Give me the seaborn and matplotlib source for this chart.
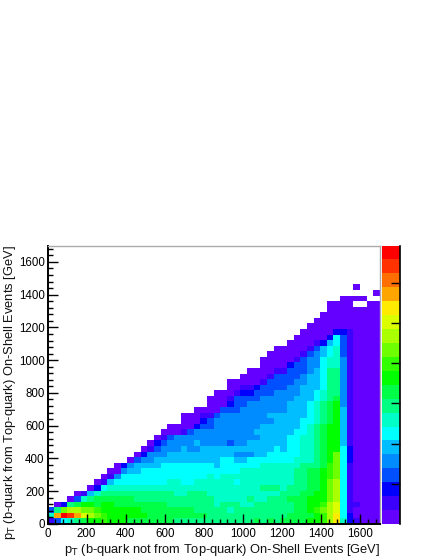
import matplotlib
matplotlib.use("Agg")
import matplotlib.pyplot as plt
import numpy as np
import pandas as pd
import seaborn as sns
from matplotlib.colors import ListedColormap
from matplotlib.ticker import FixedLocator

bin_width = 34  # GeV
x_tick_values = [0, 200, 400, 600, 800, 1000, 1200, 1400, 1600]
y_tick_values = [0, 200, 400, 600, 800, 1000, 1200, 1400, 1600]
x_label = r"p$_{\mathrm{T}}$ (b-quark not from Top-quark) On-Shell Events [GeV]"
y_label = r"p$_{\mathrm{T}}$ (b-quark from Top-quark) On-Shell Events [GeV]"

# palette steps, bottom of the colour bar to the top
palette = [
    "#6400ff", "#3c00ff", "#0000ff", "#0050ff", "#008cff",
    "#00beff", "#00ffff", "#00ffc8", "#00ff82", "#00ff46",
    "#00ff00", "#32ff00", "#6eff00", "#aaff00", "#dcff00",
    "#ffeb00", "#ffa500", "#ff6e00", "#ff3200", "#ff0000",
]
bar_ticks = [2.885, 5.77, 8.655, 11.54, 14.425, 17.31]

# colour step per bin, 0-9 then a-j, "." is empty. first line is the lowest row
level_rows = [
    "1 3 6 7 8  9 a a b a  a a 9 9 9  9 9 9 9 8  8 8 8 8 8  8 8 8 8 8  8 9 8 9 8  9 9 9 9 a  a b d f 7  2 1 0 0 0",
    "7 g j i g  e d c b a  a a a a a  9 9 9 9 9  9 9 9 9 8  8 8 8 8 8  8 8 8 8 8  8 9 9 9 9  a b d f 6  2 0 0 0 0",
    "3 8 c d d  c c b a a  a a a a 9  9 9 9 9 9  9 9 8 8 8  8 8 7 8 8  8 8 8 8 8  8 8 9 9 a  b c d e 6  1 0 0 0 0",
    ". 0 2 8 9  a a 9 a a  9 9 9 9 9  9 9 9 8 8  8 8 8 8 8  7 8 8 8 7  7 8 8 8 8  8 8 9 9 a  a b d e 6  1 1 0 0 0",
    ". . . 0 3  7 8 9 9 9  9 9 9 8 8  8 8 8 8 8  8 8 8 8 8  7 7 7 7 7  8 7 7 8 8  8 9 9 9 a  a a c d 6  1 0 0 0 0",
    ". . . . 0  1 5 7 8 8  8 8 8 8 8  8 8 8 8 7  7 8 8 8 7  7 7 7 7 7  7 7 7 7 7  8 8 8 9 9  a a c d 6  1 0 0 0 0",
    ". . . . .  . 0 2 6 7  7 7 7 7 7  7 7 7 7 7  7 7 7 7 7  7 7 7 7 7  7 7 8 8 8  7 8 8 8 9  9 a c d 6  1 0 0 0 0",
    ". . . . .  . . 0 1 5  6 6 6 6 6  6 6 6 7 7  6 6 7 7 7  7 7 7 6 7  7 7 7 7 7  7 7 8 8 9  9 a c d 6  1 0 0 0 0",
    ". . . . .  . . . 0 1  4 6 6 6 6  6 6 6 6 6  6 6 6 6 7  6 7 7 7 7  7 7 7 7 7  7 7 8 8 9  9 a b c 6  1 0 0 0 0",
    ". . . . .  . . . . 0  0 4 5 5 6  6 6 6 6 6  6 6 6 6 6  6 6 6 6 7  7 7 7 7 7  7 7 8 8 9  9 a b c 6  1 0 0 0 0",
    ". . . . .  . . . . .  0 2 4 5 5  5 5 6 6 6  6 6 6 6 6  5 6 6 6 6  6 6 7 7 7  7 7 7 8 8  8 9 b c 6  1 0 0 0 0",
    ". . . . .  . . . . .  . . 0 3 4  4 5 5 5 5  5 5 5 5 5  5 6 6 5 5  6 6 6 6 6  6 6 7 7 7  8 9 a c 6  2 0 0 0 0",
    ". . . . .  . . . . .  . . . 0 2  4 4 4 5 5  5 5 5 5 5  5 5 5 4 4  4 5 5 6 6  6 6 6 7 7  8 9 a c 6  2 0 0 0 0",
    ". . . . .  . . . . .  . . . . 0  1 3 4 4 4  5 4 4 5 5  5 5 5 5 5  5 5 5 5 6  5 6 6 7 7  8 9 a a 6  2 0 0 0 0",
    ". . . . .  . . . . .  . . . . .  0 2 3 4 4  4 4 5 4 4  4 4 3 4 4  5 5 5 5 5  5 6 6 7 7  8 9 a a 5  1 0 0 0 0",
    ". . . . .  . . . . .  . . . . .  . 0 1 3 4  4 4 4 4 4  4 4 4 4 4  4 4 5 5 5  5 6 6 7 7  8 9 a a 5  1 0 0 0 0",
    ". . . . .  . . . . .  . . . . .  . . 0 0 0  1 3 4 4 4  4 4 4 4 4  4 5 5 5 5  5 5 6 6 7  8 9 a a 5  1 0 0 0 0",
    ". . . . .  . . . . .  . . . . .  . . . 0 0  0 0 2 3 3  4 4 4 4 4  4 4 5 5 5  5 5 5 6 7  8 9 a a 5  1 0 0 0 0",
    ". . . . .  . . . . .  . . . . .  . . . . .  0 0 0 2 3  4 4 4 4 4  4 4 4 4 5  5 5 5 6 6  7 8 9 a 5  1 0 0 0 0",
    ". . . . .  . . . . .  . . . . .  . . . . .  0 0 0 1 1  3 4 4 4 4  4 4 4 5 5  5 5 5 5 6  7 8 9 a 5  1 0 0 0 0",
    ". . . . .  . . . . .  . . . . .  . . . . .  . . 0 0 0  0 3 3 3 4  4 4 4 4 4  4 5 5 5 6  7 8 9 a 5  1 0 0 0 0",
    ". . . . .  . . . . .  . . . . .  . . . . .  . . . . 0  0 0 2 3 3  4 4 4 4 4  4 5 5 5 6  7 8 9 a 4  1 0 0 0 0",
    ". . . . .  . . . . .  . . . . .  . . . . .  . . . . 0  0 0 1 3 3  3 3 4 4 4  4 4 5 5 5  6 7 8 9 4  1 0 0 0 0",
    ". . . . .  . . . . .  . . . . .  . . . . .  . . . . .  0 0 0 1 2  2 3 3 3 4  4 4 4 5 5  6 7 8 8 4  1 0 0 0 0",
    ". . . . .  . . . . .  . . . . .  . . . . .  . . . . .  . . 0 0 1  1 2 3 3 3  3 4 4 5 5  5 6 8 8 4  1 0 0 0 0",
    ". . . . .  . . . . .  . . . . .  . . . . .  . . . . .  . . 0 0 0  0 0 1 3 3  3 3 4 4 5  5 6 8 8 4  1 0 0 0 0",
    ". . . . .  . . . . .  . . . . .  . . . . .  . . . . .  . . . . 0  0 0 0 1 3  3 3 3 4 5  5 6 8 8 4  1 0 0 0 0",
    ". . . . .  . . . . .  . . . . .  . . . . .  . . . . .  . . . . .  0 0 0 0 1  1 3 3 3 4  5 6 8 8 4  1 0 0 0 0",
    ". . . . .  . . . . .  . . . . .  . . . . .  . . . . .  . . . . .  . . 0 0 0  0 2 3 3 4  4 6 7 7 4  1 0 0 0 0",
    ". . . . .  . . . . .  . . . . .  . . . . .  . . . . .  . . . . .  . . 0 0 0  0 0 1 3 4  4 6 7 7 4  1 0 0 0 0",
    ". . . . .  . . . . .  . . . . .  . . . . .  . . . . .  . . . . .  . . . 0 0  0 0 0 1 3  4 5 6 7 3  1 0 0 0 0",
    ". . . . .  . . . . .  . . . . .  . . . . .  . . . . .  . . . . .  . . . . 0  0 0 0 0 1  3 5 6 7 3  1 0 0 0 0",
    ". . . . .  . . . . .  . . . . .  . . . . .  . . . . .  . . . . .  . . . . .  . 0 0 0 0  1 2 5 6 3  1 0 0 0 0",
    ". . . . .  . . . . .  . . . . .  . . . . .  . . . . .  . . . . .  . . . . .  . . 0 0 0  0 0 2 6 3  1 0 0 0 0",
    ". . . . .  . . . . .  . . . . .  . . . . .  . . . . .  . . . . .  . . . . .  . . . 0 0  0 0 0 2 2  1 0 0 0 0",
    ". . . . .  . . . . .  . . . . .  . . . . .  . . . . .  . . . . .  . . . . .  . . . . 0  0 0 0 0 0  0 0 0 0 0",
    ". . . . .  . . . . .  . . . . .  . . . . .  . . . . .  . . . . .  . . . . .  . . . . .  0 0 0 0 0  0 0 0 0 0",
    ". . . . .  . . . . .  . . . . .  . . . . .  . . . . .  . . . . .  . . . . .  . . . . .  . 0 0 0 0  0 0 0 0 0",
    ". . . . .  . . . . .  . . . . .  . . . . .  . . . . .  . . . . .  . . . . .  . . . . .  . . 0 0 0  0 0 0 0 0",
    ". . . . .  . . . . .  . . . . .  . . . . .  . . . . .  . . . . .  . . . . .  . . . . .  . . 0 0 0  0 . . 0 0",
    ". . . . .  . . . . .  . . . . .  . . . . .  . . . . .  . . . . .  . . . . .  . . . . .  . . . . 0  0 0 0 . .",
    ". . . . .  . . . . .  . . . . .  . . . . .  . . . . .  . . . . .  . . . . .  . . . . .  . . . . .  . . . . 0",
    ". . . . .  . . . . .  . . . . .  . . . . .  . . . . .  . . . . .  . . . . .  . . . . .  . . . . .  . 0 . . .",
]


def parse_rows(rows, n_rows=50):
    grid = np.full((n_rows, 50), np.nan)
    for i, row in enumerate(rows):
        cells = row.split()
        assert len(cells) == 50, (i, len(cells))
        for j, c in enumerate(cells):
            if c != ".":
                grid[i, j] = int(c, 20)
    return grid


plt.rcParams["font.family"] = ["Liberation Sans", "DejaVu Sans"]
plt.rcParams["mathtext.default"] = "regular"
plt.rcParams["axes.linewidth"] = 1.0

W, H = 432, 559
fig = plt.figure(figsize=(W / 100, H / 100), dpi=100)
ax = fig.add_axes([47.5 / W, 1 - 524 / H, 332.5 / W, 278.5 / H])
cax = fig.add_axes([382 / W, 1 - 524 / H, 18 / W, 278.5 / H])

df = pd.DataFrame(parse_rows(level_rows))
sns.heatmap(
    df,
    ax=ax,
    cbar_ax=cax,
    cmap=ListedColormap(palette),
    vmin=-0.5,
    vmax=19.5,
    xticklabels=False,
    yticklabels=False,
    rasterized=True,
)
ax.invert_yaxis()
ax.set_xlim(0, 50)
ax.set_ylim(0, 50)

for name, spine in ax.spines.items():
    spine.set_visible(True)
    spine.set_color("black" if name in ("left", "bottom") else "#aaaaaa")
    spine.set_linewidth(1.4 if name in ("left", "bottom") else 1.0)

ax.set_xticks(np.array(x_tick_values) / bin_width)
ax.set_xticklabels(x_tick_values)
ax.set_yticks(np.array(y_tick_values) / bin_width)
ax.set_yticklabels(y_tick_values)
minor = np.arange(0, 1700, 40) / bin_width
ax.xaxis.set_minor_locator(FixedLocator(minor))
ax.yaxis.set_minor_locator(FixedLocator(minor))
ax.tick_params(axis="both", which="major", direction="in", length=7.2, width=1.0, labelsize=8.3, pad=2, color="black")
ax.tick_params(axis="both", which="minor", direction="in", length=3.6, width=1.0, color="black")
ax.tick_params(axis="y", labelrotation=0)
ax.tick_params(axis="x", pad=3)

ax.set_xlabel(x_label, fontsize=9.3, loc="right", labelpad=0, color="#111111")
ax.set_ylabel(y_label, fontsize=9.3, loc="top", labelpad=0, color="#111111")
ax.yaxis.set_label_coords(-29.5 / 332.5, 1.0)
ax.xaxis.set_label_coords(1.0, -18 / 278.5)

# colour bar: no labels, short ticks pointing inwards
cax.set_yticks([b - 0.5 for b in bar_ticks])
cax.set_yticklabels([])
cax.tick_params(axis="y", direction="in", length=6.5, width=1.0, color="black", right=True, left=False)
for name, spine in cax.spines.items():
    spine.set_visible(name == "right")
    spine.set_color("black")
    spine.set_linewidth(1.2)

fig.savefig("out.png", dpi=100)
